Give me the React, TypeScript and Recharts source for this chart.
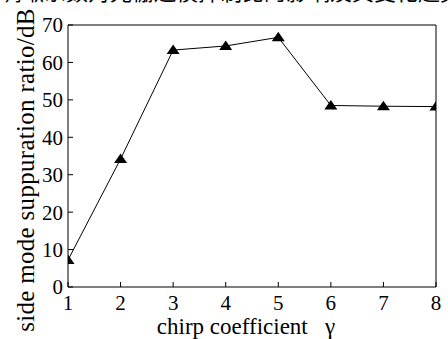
import { LineChart, Line, XAxis, YAxis } from "recharts";

const gammaValues = [1, 2, 3, 4, 5, 6, 7, 8];
const smsrValues = [7.2, 34.2, 63.3, 64.4, 66.7, 48.5, 48.3, 48.2];
const xTicks = [1, 2, 3, 4, 5, 6, 7, 8];
const yTicks = [0, 10, 20, 30, 40, 50, 60, 70];

const xTitle = "chirp coefficient   γ";
const yTitle = "side mode suppuration ratio/dB";
const topLine = "啁啾系数对光栅边模抑制比的影响及其变化趋势如下";

const data = gammaValues.map((g, i) => ({ gamma: g, smsr: smsrValues[i] }));

const SERIF = "'Liberation Serif', 'Times New Roman', serif";
const tickStyle = { fontSize: 21, fill: "#000", fontFamily: SERIF };
const axisStroke = { stroke: "#000", strokeWidth: 1 };

function Tri(props: { cx?: number; cy?: number; index?: number }) {
  const { cx, cy } = props;
  if (cx == null || cy == null) return null;
  return (
    <path
      key={props.index}
      d={`M${cx},${cy - 5.5} L${cx + 6.5},${cy + 4} L${cx - 6.5},${cy + 4} Z`}
      fill="#000"
    />
  );
}

function XTitle(props: { viewBox?: { x: number; y: number; width: number; height: number } }) {
  const vb = props.viewBox!;
  return (
    <text x={vb.x + vb.width / 2 - 6} y={vb.y + 47} textAnchor="middle" fontSize={23} fontFamily={SERIF} fill="#000" style={{ whiteSpace: "pre" }}>
      {xTitle}
    </text>
  );
}

function YTitle(props: { viewBox?: { x: number; y: number; width: number; height: number } }) {
  const vb = props.viewBox!;
  const cx = vb.x + 25;
  const cy = vb.y + vb.height / 2 + 14;
  return (
    <text
      x={cx}
      y={cy}
      transform={`rotate(-90, ${cx}, ${cy})`}
      textAnchor="middle"
      dominantBaseline="central"
      fontSize={25}
      letterSpacing={0.3}
      fontFamily={SERIF}
      fill="#000"
    >
      {yTitle}
    </text>
  );
}

export default function App() {
  return (
    <div style={{ position: "absolute", left: 0, top: 0, width: 448, height: 339, background: "#fff", overflow: "hidden" }}>
      <div
        style={{
          position: "absolute",
          left: 0,
          top: -21,
          fontSize: 22,
          lineHeight: "22px",
          whiteSpace: "nowrap",
          fontFamily: "'Noto Sans CJK SC', sans-serif",
          color: "#000",
        }}
      >
        {topLine}
      </div>
      <LineChart width={448} height={339} data={data} margin={{ top: 0, right: 0, bottom: 0, left: 0 }}>
        <XAxis
          dataKey="gamma"
          type="number"
          domain={[1, 8]}
          ticks={xTicks}
          interval={0}
          allowDataOverflow
          height={52}
          tickSize={-5}
          tickMargin={13}
          tick={tickStyle}
          axisLine={axisStroke}
          tickLine={axisStroke}
          label={XTitle}
        />
        <XAxis
          xAxisId="top"
          orientation="top"
          dataKey="gamma"
          type="number"
          domain={[1, 8]}
          ticks={xTicks}
          interval={0}
          allowDataOverflow
          height={25}
          tickSize={-5}
          tick={false}
          axisLine={axisStroke}
          tickLine={axisStroke}
        />
        <YAxis
          type="number"
          domain={[0, 70]}
          ticks={yTicks}
          interval={0}
          allowDataOverflow
          width={68}
          tickSize={-5}
          tickMargin={10}
          tick={tickStyle}
          axisLine={axisStroke}
          tickLine={axisStroke}
          label={YTitle}
        />
        <YAxis
          yAxisId="right"
          orientation="right"
          type="number"
          domain={[0, 70]}
          ticks={yTicks}
          interval={0}
          allowDataOverflow
          width={12}
          tickSize={-5}
          tick={false}
          axisLine={axisStroke}
          tickLine={axisStroke}
        />
        <Line
          dataKey="smsr"
          stroke="#000"
          strokeWidth={1}
          dot={Tri}
          activeDot={false}
          isAnimationActive={false}
        />
      </LineChart>
    </div>
  );
}
